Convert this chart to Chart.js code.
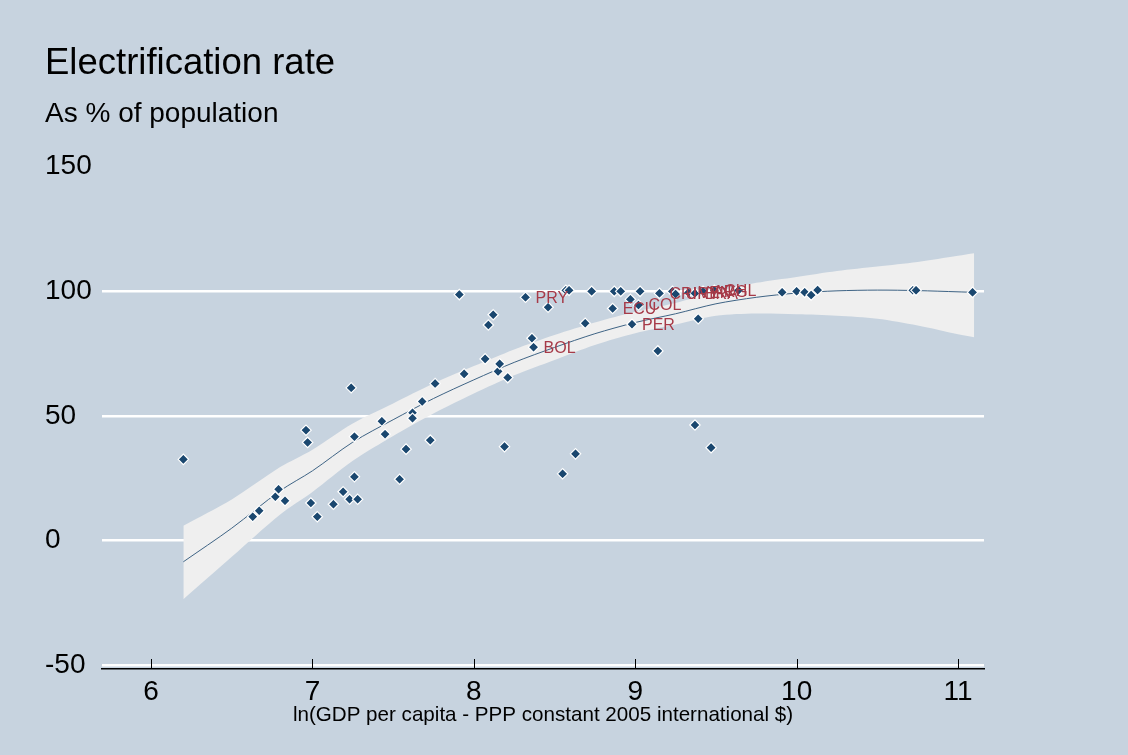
<!DOCTYPE html>
<html>
<head>
<meta charset="utf-8">
<script src="https://cdn.jsdelivr.net/npm/chart.js@4.4.1/dist/chart.umd.min.js"></script>
<style>
  html, body { margin: 0; padding: 0; background: #c7d3df; }
  #wrap { width: 1128px; height: 755px; position: relative; }
</style>
</head>
<body>
<div id="wrap"><canvas id="c" width="1128" height="755"></canvas></div>
<script>
// ---- Data ----
const lnGdp = [6.20, 6.63, 6.67, 6.77, 6.79, 6.83, 6.96, 6.97, 6.99, 7.03,
  7.13, 7.19, 7.23, 7.24, 7.26, 7.26, 7.28, 7.43, 7.45, 7.54,
  7.58, 7.62, 7.62, 7.68, 7.73, 7.76, 7.91, 7.94, 8.07, 8.09,
  8.12, 8.15, 8.16, 8.19, 8.21, 8.32, 8.36, 8.37, 8.46, 8.55,
  8.57, 8.59, 8.63, 8.69, 8.73, 8.86, 8.87, 8.91, 8.97, 8.98,
  9.02, 9.03, 9.14, 9.15, 9.23, 9.25, 9.33, 9.37, 9.37, 9.39,
  9.42, 9.47, 9.49, 9.64, 9.91, 10.00, 10.05, 10.09, 10.13, 10.72,
  10.74, 11.09];
const elecRate = [32.6, 9.6, 12.0, 17.6, 20.6, 16.0, 44.3, 39.4, 15.1, 9.6,
  14.6, 19.6, 16.6, 61.3, 41.7, 25.6, 16.6, 47.9, 42.7, 24.6,
  36.7, 51.3, 49.1, 55.8, 40.3, 63.0, 98.7, 66.9, 72.9, 86.5,
  90.6, 67.9, 70.9, 37.7, 65.4, 97.6, 81.2, 77.6, 93.6, 26.8,
  100.4, 100.4, 34.8, 87.2, 100.0, 93.1, 100.0, 100.0, 96.8, 86.8,
  94.5, 100.0, 76.1, 99.2, 100.0, 98.9, 99.5, 46.4, 99.2, 89.0,
  100.0, 37.3, 100.4, 100.4, 99.6, 100.0, 99.6, 98.5, 100.5, 100.4,
  100.4, 99.6];
const countryCode = ['', '', '', '', '', '', '', '', '', '',
  '', '', '', '', '', '', '', '', '', '',
  '', '', '', '', '', '', '', '', '', '',
  '', '', '', '', '', 'PRY', '', 'BOL', '', '',
  '', '', '', '', '', 'ECU', '', '', '', 'PER',
  'COL', '', '', 'CRI', '', 'URY', 'VEN', '', 'BRA', '',
  'ARG', '', 'CHL', '', '', '', '', '', '', '',
  '', ''];

// fitted curve and its confidence band
const fitX =  [6.2, 6.5, 6.8, 7.0, 7.25, 7.5, 7.75, 8.0, 8.25, 8.5, 8.75, 9.0, 9.25, 9.5, 9.75, 10.0, 10.25, 10.5, 10.75, 11.0, 11.1];
const fitY =  [-8.5, 5, 20, 28, 39.5, 48.5, 57, 64.5, 71.5, 77.5, 83, 87.5, 91, 95, 97.6, 99.3, 100.2, 100.5, 100.3, 99.8, 99.6];
const ciLow = [-23.5, -6.5, 10.5, 19.5, 32, 42, 51, 59, 66.3, 72.5, 78.5, 83.2, 86.7, 90.2, 91.1, 90.8, 90.2, 89, 86.3, 82.8, 81.6];
const ciHigh = [6, 16.5, 29.5, 36.5, 47, 55, 63, 70, 76.7, 82.5, 87.5, 91.8, 95.3, 99.8, 103.4, 105.8, 108.2, 110, 111.8, 114.3, 115.3];

const xTicks = [6, 7, 8, 9, 10, 11];
const yTicks = [-50, 0, 50, 100, 150];

const titleText = 'Electrification rate';
const subtitleText = 'As % of population';
const xTitleText = 'ln(GDP per capita - PPP constant 2005 international $)';

// ---- Styling ----
const NARROW = "'Liberation Sans Narrow', 'Arial Narrow', 'Liberation Sans', Arial, sans-serif";
const SANS = "'Liberation Sans', Arial, sans-serif";

const pts = lnGdp.map((x, i) => ({ x: x, y: elecRate[i] }));
const toXY = (ys) => fitX.map((x, i) => ({ x: x, y: ys[i] }));

const tickMarks = {
  id: 'tickMarks',
  beforeDatasetsDraw(chart) {
    const xs = chart.scales.x;
    const ctx = chart.ctx;
    const b = chart.chartArea.bottom;
    ctx.save();
    ctx.strokeStyle = '#000';
    ctx.lineWidth = 1;
    xTicks.forEach(v => {
      const px = Math.round(xs.getPixelForValue(v)) + 0.5;
      ctx.beginPath();
      ctx.moveTo(px, b);
      ctx.lineTo(px, b - 10);
      ctx.stroke();
    });
    ctx.restore();
  }
};

const pointLabels = {
  id: 'pointLabels',
  afterDatasetsDraw(chart) {
    const meta = chart.getDatasetMeta(3);
    const ctx = chart.ctx;
    ctx.save();
    ctx.font = '16px ' + SANS;
    ctx.fillStyle = '#a63a48';
    ctx.textAlign = 'left';
    ctx.textBaseline = 'middle';
    meta.data.forEach((el, i) => {
      if (countryCode[i]) ctx.fillText(countryCode[i], el.x + 10, el.y + 1);
    });
    ctx.restore();
  }
};

new Chart(document.getElementById('c'), {
  type: 'scatter',
  data: {
    datasets: [
      { label: 'ciLow', data: toXY(ciLow), showLine: true, pointRadius: 0, borderWidth: 0,
        borderColor: 'rgba(0,0,0,0)', fill: false, tension: 0.3, order: 4 },
      { label: 'ciHigh', data: toXY(ciHigh), showLine: true, pointRadius: 0, borderWidth: 0,
        borderColor: 'rgba(0,0,0,0)', backgroundColor: '#efefef', fill: '-1', tension: 0.3, order: 3 },
      { label: 'fit', data: toXY(fitY), showLine: true, pointRadius: 0, borderWidth: 1,
        borderColor: '#3f6485', fill: false, tension: 0.3, order: 2 },
      { label: 'elec', data: pts, showLine: false, pointStyle: 'rectRot', pointRadius: 5.2,
        backgroundColor: '#1a476f', borderColor: '#ffffff', borderWidth: 1.2, order: 1 }
    ]
  },
  options: {
    responsive: false,
    animation: false,
    events: [],
    layout: { padding: { left: 45, right: 144, top: 0, bottom: 20 } },
    plugins: {
      legend: { display: false },
      tooltip: { enabled: false },
      title: {
        display: true, text: titleText, align: 'start', color: '#000',
        font: { family: SANS, size: 36.5, weight: 'normal' },
        padding: { top: 41.7, bottom: 12.3 }
      },
      subtitle: {
        display: true, text: subtitleText, align: 'start', color: '#000',
        font: { family: SANS, size: 28, weight: 'normal' },
        padding: { top: 0, bottom: 35.3 }
      }
    },
    scales: {
      x: {
        type: 'linear', min: 5.696, max: 11.161,
        afterBuildTicks: (s) => { s.ticks = xTicks.map(v => ({ value: v })); },
        afterFit: (s) => { s.height = 66; },
        grid: { display: false, drawTicks: false },
        border: { display: true, color: '#000', width: 1.5 },
        ticks: { color: '#000', font: { family: NARROW, size: 28 }, padding: 6,
                 maxRotation: 0, autoSkip: false, callback: (v) => String(v) },
        title: { display: true, text: xTitleText, color: '#000',
                 font: { family: SANS, size: 20.6 }, padding: { top: 0, bottom: 7 } }
      },
      y: {
        type: 'linear', min: -51.5, max: 150,
        afterBuildTicks: (s) => { s.ticks = yTicks.map(v => ({ value: v })); },
        afterFit: (s) => { s.width = 57; },
        grid: {
          drawTicks: false,
          color: (c) => (c.tick && c.tick.value === 150) ? 'rgba(0,0,0,0)' : '#ffffff',
          lineWidth: 2.5
        },
        border: { display: false },
        ticks: { color: '#000', font: { family: NARROW, size: 28 }, padding: 0,
                 crossAlign: 'far', callback: (v) => String(v) }
      }
    }
  },
  plugins: [tickMarks, pointLabels]
});
</script>
</body>
</html>
